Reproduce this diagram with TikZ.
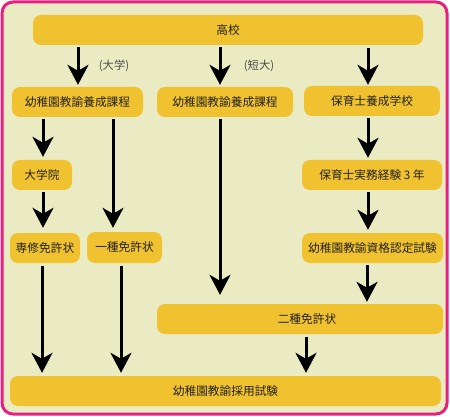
\documentclass[tikz,border=0pt]{standalone}
\usepackage{fontspec}
\newfontfamily\jpfont{Noto Sans CJK JP}
\usetikzlibrary{arrows.meta}
\definecolor{bgcream}{HTML}{EBEBC3}
\definecolor{pinkframe}{HTML}{E6207E}
\definecolor{boxgold}{HTML}{F1C22F}
\definecolor{txtdark}{HTML}{222222}
\begin{document}
\begin{tikzpicture}[x=1pt,y=-1pt,
  box/.style={fill=boxgold, rounded corners=8pt, inner sep=0pt, text=txtdark,
    font=\jpfont\fontsize{11.7}{13}\selectfont},
  arr/.style={line width=3pt, -{Stealth[length=20pt,width=21pt,inset=6pt]}},
  lab/.style={font=\jpfont\fontsize{11.3}{12}\selectfont, text=black!70, inner sep=0pt}]
\useasboundingbox (0,0) rectangle (450,417);
\draw[pinkframe, line width=3pt, fill=bgcream, rounded corners=11pt] (2,2) rectangle (447,414);

\node[box, minimum width=390pt, minimum height=30pt] (hs) at (228,30) {高校};
\node[box, minimum width=131pt, minimum height=30pt] (kL) at (77.5,102) {幼稚園教諭養成課程};
\node[box, minimum width=136pt, minimum height=30pt] (kM) at (225,102) {幼稚園教諭養成課程};
\node[box, minimum width=136pt, minimum height=30pt] (hk) at (372,101) {保育士養成学校};
\node[box, minimum width=60pt, minimum height=30pt] (dg) at (42,175) {大学院};
\node[box, minimum width=70pt, minimum height=30pt] (ss) at (45,248) {専修免許状};
\node[box, minimum width=75pt, minimum height=31pt] (is) at (124.5,247.5) {一種免許状};
\node[box, minimum width=140pt, minimum height=30pt] (jm) at (372,175) {保育士実務経験 3 年};
\node[box, minimum width=141pt, minimum height=30pt] (nt) at (372.5,248) {幼稚園教諭資格認定試験};
\node[box, minimum width=286pt, minimum height=30pt, text width=286pt, align=center] (ns) at (300,319) {\hspace*{14pt}二種免許状};
\node[box, minimum width=431pt, minimum height=30pt] (sy) at (225.5,391) {幼稚園教諭採用試験};

\node[lab] (lbD) at (114,66) {(大学)};
\node[lab] (lbT) at (259,66) {(短大)};

\coordinate (x1) at (78,0);
\coordinate (x2) at (220,0);
\coordinate (x3) at (368,0);
\coordinate (x4) at (43,0);
\coordinate (x5) at (113,0);
\coordinate (x6) at (42,0);
\coordinate (x7) at (121,0);
\coordinate (x8) at (306,0);
\coordinate (x9) at (367,0);

\draw[arr, shorten <=2pt, shorten >=2pt] (hs.south -| x1) -- (kL.north -| x1);
\draw[arr, shorten <=2pt, shorten >=2pt] (hs.south -| x2) -- (kM.north -| x2);
\draw[arr, shorten <=3pt, shorten >=1pt] (hs.south -| x3) -- (hk.north -| x3);
\draw[arr, shorten <=2pt, shorten >=3pt] (kL.south -| x4) -- (dg.north -| x4);
\draw[arr, shorten <=2pt, shorten >=4pt] (kL.south -| x5) -- (is.north -| x5);
\draw[arr, shorten <=2pt, shorten >=5pt] (dg.south -| x4) -- (ss.north -| x4);
\draw[arr, shorten <=2pt, shorten >=9pt] (kM.south -| x2) -- (ns.north -| x2);
\draw[arr, shorten <=2pt, shorten >=2pt] (hk.south -| x3) -- (jm.north -| x3);
\draw[arr, shorten <=2pt, shorten >=3pt] (jm.south -| x3) -- (nt.north -| x3);
\draw[arr, shorten <=2pt, shorten >=2pt] (nt.south -| x9) -- (ns.north -| x9);
\draw[arr, shorten <=3pt, shorten >=3pt] (ss.south -| x6) -- (sy.north -| x6);
\draw[arr, shorten <=3pt, shorten >=3pt] (is.south -| x7) -- (sy.north -| x7);
\draw[arr, shorten <=3pt, shorten >=3pt] (ns.south -| x8) -- (sy.north -| x8);
\end{tikzpicture}
\end{document}
